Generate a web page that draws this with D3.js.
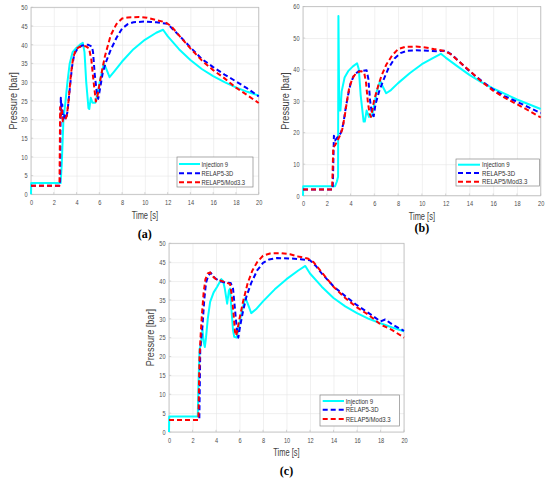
<!DOCTYPE html>
<html>
<head>
<meta charset="utf-8">
<script src="https://cdn.jsdelivr.net/npm/d3@7"></script>
<style>
  body { margin: 0; background: #fff; }
  svg { display: block; font-family: "Liberation Sans", Arial, sans-serif; }
</style>
</head>
<body>
<script>
// series names for the legend
var seriesNames = ["Injection 9", "RELAP5-3D", "RELAP5/Mod3.3"];
var xTicks = [0, 2, 4, 6, 8, 10, 12, 14, 16, 18, 20];

// panel (a) : [time s, pressure bar]
var injA = [[0,0],[0.02,3],[2.6,3],[2.7,8],[2.85,20],[3.0,24],[3.2,30],[3.4,35],[3.65,38],[4.0,39.2],[4.3,40],[4.55,40.5],[4.7,38],[4.85,30],[5.05,23],[5.12,22.8],[5.25,25.8],[5.4,24.5],[5.65,24.5],[5.85,27],[6.1,31],[6.4,35],[6.55,34],[6.9,31.3],[7.3,32.8],[8,35.5],[9,38.8],[10,41.3],[11,43.2],[11.6,44],[12,42.3],[13,38.8],[14,35.9],[15,33.5],[16,31.6],[17,30],[18,28.6],[19,27.4],[20,26.4]];
var r3dA = [[0,2.3],[2.55,2.3],[2.58,15],[2.62,25.8],[2.68,22],[2.75,24],[2.8,20],[2.9,21.5],[3.05,20],[3.2,22],[3.4,28],[3.6,34],[3.8,37.5],[4.1,39],[4.5,39.8],[5.0,40],[5.35,39.5],[5.45,38],[5.6,32],[5.75,28],[5.9,25.5],[6.05,28],[6.3,32.5],[6.6,35.5],[7.0,38.6],[7.5,41.8],[8,44.3],[8.5,45.5],[9,46],[10,46.2],[11,46],[11.5,45.8],[12,45.6],[12.5,44],[13,42.5],[14,39.3],[15,36.2],[16,34],[17,32],[18,30.2],[19,28.3],[20,26.2]];
var modA = [[0,2.3],[2.5,2.3],[2.53,12],[2.56,23.3],[2.62,21],[2.7,22.5],[2.8,19.5],[3.0,20],[3.15,21],[3.3,25],[3.5,32],[3.7,36.5],[3.95,38.8],[4.3,39.5],[4.8,39.6],[5.1,39],[5.3,36],[5.5,30],[5.7,24.8],[5.85,26.5],[6.05,30],[6.3,34],[6.5,37],[7.0,42.5],[7.5,45.5],[8.0,47],[8.5,47.3],[9.5,47.4],[10.2,47.2],[11,46.6],[11.8,46],[12.3,45],[13,42.5],[14,39],[15,35.8],[16,33.2],[17,31],[18,28.5],[19,26.5],[20,24.4]];

// panel (b)
var injB = [[0,0],[0.02,3],[2.7,3],[2.85,4.5],[2.95,6],[2.98,57],[3.02,40],[3.05,27],[3.1,30],[3.15,27],[3.25,33],[3.5,37.5],[3.8,39.5],[4.2,41],[4.55,42],[4.7,40],[4.85,32],[5.1,23.5],[5.2,23.5],[5.35,27],[5.55,25],[5.8,25.2],[6.0,29],[6.2,33],[6.5,36.5],[6.65,35],[7.0,32.5],[7.4,33.5],[8,35.7],[9,38.9],[10,41.7],[11,43.8],[11.6,45],[12,43.8],[13,41],[14,38.3],[15,36],[16,34],[17,32.3],[18,30.5],[19,29],[20,27.5]];
var r3dB = [[0,2],[2.5,2],[2.55,10],[2.6,19],[2.7,17.5],[2.8,18],[3.0,19],[3.2,20],[3.4,23],[3.6,28],[3.8,32],[4.0,35.5],[4.3,38.3],[4.7,39.5],[5.0,39.6],[5.35,39.8],[5.5,37],[5.65,30],[5.8,26],[5.95,25.2],[6.1,29],[6.4,33],[6.8,37],[7.2,40.5],[7.7,43.5],[8.2,45.2],[8.8,46],[9.5,46.1],[10.5,46],[11.3,45.8],[12,46],[12.6,44.5],[13,43],[14,39.5],[15,36.5],[16,33.7],[17,31.5],[18,29.8],[19,28],[20,26.2]];
var modB = [[0,2],[2.45,2],[2.5,9],[2.55,15.5],[2.7,16],[2.9,17.5],[3.1,19],[3.3,21],[3.5,25],[3.7,30],[3.9,34.5],[4.2,37.5],[4.5,39],[4.9,39.5],[5.15,39],[5.3,36],[5.45,30],[5.6,26],[5.72,25],[5.85,27.5],[6.0,30.5],[6.3,34.5],[6.6,38],[7.0,41.5],[7.5,44.5],[8.0,46.5],[8.6,47.2],[9.5,47.3],[10.3,47],[11,46.5],[11.8,46],[12.4,45],[13,43],[14,39.7],[15,36.3],[16,33.3],[17,31],[18,29],[19,27],[20,24.8]];

// panel (c)
var injC = [[0,0],[0.02,4.1],[2.45,4.1],[2.5,12],[2.6,22],[2.7,23],[2.85,27],[2.95,24],[3.05,22.5],[3.15,25],[3.3,30],[3.5,34.5],[3.8,37],[4.1,38.5],[4.45,40.5],[4.6,40],[4.75,38],[4.95,34],[5.1,37.5],[5.2,38],[5.3,33],[5.45,27],[5.55,25.2],[5.75,25],[5.95,28],[6.2,32],[6.5,35.6],[6.7,34],[7.0,31.5],[7.4,32.5],[8,34.6],[9,37.8],[10,40.5],[11,42.8],[11.6,44],[12,42],[13,38.5],[14,35.5],[15,33.3],[16,31.5],[17,30],[18,28.8],[19,27.7],[20,26.7]];
var r3dC = [[0,3.2],[2.58,3.2],[2.62,12],[2.66,22],[2.75,25],[2.85,28],[3.0,35],[3.15,39.5],[3.35,41.5],[3.55,42.2],[3.7,41.5],[3.9,40.8],[4.3,40],[4.8,39.6],[5.25,39.5],[5.45,38],[5.6,33],[5.75,28],[5.9,25],[6.05,28],[6.3,32],[6.6,36],[7.0,39.5],[7.5,42.8],[8.0,44.8],[8.5,45.7],[9.2,46.1],[10.2,46],[11.2,45.8],[12,45.5],[12.5,44],[13,42],[14,38.6],[15,36],[16,33.6],[17,31.5],[18,29.3],[18.4,29.8],[19,28.5],[20,26.8]];
var modC = [[0,3.2],[2.5,3.2],[2.55,12],[2.6,20],[2.7,26],[2.8,31],[2.95,37],[3.1,40.5],[3.3,42],[3.5,42.3],[3.7,41.3],[4.0,40.5],[4.4,40.1],[4.8,39.7],[5.2,39.2],[5.35,36],[5.5,31],[5.62,26.5],[5.72,25.5],[5.85,27.5],[6.0,30],[6.3,34.5],[6.7,39.5],[7.1,42.8],[7.5,45],[8.0,46.7],[8.6,47.3],[9.5,47.4],[10.3,47.1],[11.0,46.5],[11.8,46],[12.3,45],[13,42.3],[14,38.5],[15,35.5],[16,33],[17,31],[18,28.5],[19,27],[20,25]];

var yTicksAC = [0, 5, 10, 15, 20, 25, 30, 35, 40, 45, 50];
var yTicksB = [0, 10, 20, 30, 40, 50, 60];

// layout of the three panels
var panels = [
  {tag: "(a)", data: [injA, r3dA, modA], yMax: 50, yTicks: yTicksAC,
   left: 31, right: 258.7, top: 7.3, bottom: 194.3,
   yLabX: 12.7, xLabY: 215, capY: 233.5,
   leg: {x0: 177, x1: 253, y0: 157, y1: 187, rows: [164, 173.3, 182.3], s0: 179, s1: 200, tx: 201.5, k: 0.73}},
  {tag: "(b)", data: [injB, r3dB, modB], yMax: 60, yTicks: yTicksB,
   left: 303, right: 540.7, top: 6.5, bottom: 195.7,
   yLabX: 285, xLabY: 216, capY: 228,
   leg: {x0: 456, x1: 539.5, y0: 159, y1: 186, rows: [164.7, 173, 181.7], s0: 458, s1: 480, tx: 482, k: 0.76}},
  {tag: "(c)", data: [injC, r3dC, modC], yMax: 50, yTicks: yTicksAC,
   left: 169, right: 404, top: 243.3, bottom: 432,
   yLabX: 150, xLabY: 451.7, capY: 470.7,
   leg: {x0: 320, x1: 399.5, y0: 395, y1: 426, rows: [401, 409.7, 419], s0: 322.7, s1: 344, tx: 345.7, k: 0.755}}
];

var styles = [
  {color: "#00ffff", dash: null},
  {color: "#0000ff", dash: "5,3"},
  {color: "#ff0000", dash: "5,3"}
];

var svg = d3.select("body").append("svg")
  .attr("width", 550)
  .attr("height", 482);

// narrow text horizontally, the source picture is squeezed
function squeeze(sel, k){
  sel.each(function(){
    var w = this.getComputedTextLength();
    d3.select(this).attr("textLength", w * k).attr("lengthAdjust", "spacingAndGlyphs");
  });
}

panels.forEach(function(p){
  var x = d3.scaleLinear().domain([0, 20]).range([p.left, p.right]);
  var y = d3.scaleLinear().domain([0, p.yMax]).range([p.bottom, p.top]);
  var w = p.right - p.left, h = p.bottom - p.top;

  var g = svg.append("g");

  // grid + ticks
  var xa = g.append("g")
    .attr("transform", "translate(0," + p.bottom + ")")
    .call(d3.axisBottom(x).tickValues(xTicks).tickSize(-h).tickPadding(5.5).tickFormat(d3.format("d")));
  var ya = g.append("g")
    .attr("transform", "translate(" + p.left + ",0)")
    .call(d3.axisLeft(y).tickValues(p.yTicks).tickSize(-w).tickPadding(3.5).tickFormat(d3.format("d")));

  [xa, ya].forEach(function(a){
    a.select(".domain").remove();
    a.selectAll("line").attr("stroke", "#e6e6e6").attr("stroke-width", 0.6);
    a.selectAll("text").attr("fill", "#4d4d4d").style("font-size", "7.2px");
    squeeze(a.selectAll("text"), 0.78);
  });

  // frame
  g.append("rect")
    .attr("x", p.left).attr("y", p.top)
    .attr("width", w).attr("height", h)
    .attr("fill", "none")
    .attr("stroke", "#bdbdbd")
    .attr("stroke-width", 0.8);

  // small inward tick marks
  xTicks.forEach(function(t){
    g.append("line").attr("x1", x(t)).attr("x2", x(t))
      .attr("y1", p.bottom).attr("y2", p.bottom - 2.2)
      .attr("stroke", "#bdbdbd").attr("stroke-width", 0.6);
  });
  p.yTicks.forEach(function(t){
    g.append("line").attr("x1", p.left).attr("x2", p.left + 2.2)
      .attr("y1", y(t)).attr("y2", y(t))
      .attr("stroke", "#bdbdbd").attr("stroke-width", 0.6);
  });

  // series
  var line = d3.line()
    .x(function(d){ return x(d[0]); })
    .y(function(d){ return y(d[1]); });

  p.data.forEach(function(series, i){
    g.append("path")
      .datum(series)
      .attr("d", line)
      .attr("fill", "none")
      .attr("stroke", styles[i].color)
      .attr("stroke-width", 2)
      .attr("stroke-linejoin", "round")
      .attr("stroke-dasharray", styles[i].dash);
  });

  // legend
  var L = p.leg;
  g.append("rect")
    .attr("x", L.x0).attr("y", L.y0)
    .attr("width", L.x1 - L.x0).attr("height", L.y1 - L.y0)
    .attr("fill", "#fff")
    .attr("stroke", "#888")
    .attr("stroke-width", 0.7);
  seriesNames.forEach(function(name, i){
    g.append("line")
      .attr("x1", L.s0).attr("x2", L.s1)
      .attr("y1", L.rows[i]).attr("y2", L.rows[i])
      .attr("stroke", styles[i].color)
      .attr("stroke-width", 2)
      .attr("stroke-dasharray", styles[i].dash);
    var t = g.append("text")
      .attr("x", L.tx).attr("y", L.rows[i])
      .attr("dominant-baseline", "central")
      .attr("fill", "#333")
      .style("font-size", "8px")
      .text(name);
    squeeze(t, L.k);
  });

  // axis labels
  var yl = g.append("text")
    .attr("transform", "translate(" + p.yLabX + "," + (p.top + h / 2) + ") rotate(-90)")
    .attr("text-anchor", "middle")
    .attr("dominant-baseline", "central")
    .attr("fill", "#404040")
    .style("font-size", "11px")
    .text("Pressure [bar]");
  squeeze(yl, 0.83);

  var xl = g.append("text")
    .attr("x", p.left + w / 2).attr("y", p.xLabY)
    .attr("text-anchor", "middle")
    .attr("dominant-baseline", "central")
    .attr("fill", "#404040")
    .style("font-size", "11px")
    .text("Time [s]");
  squeeze(xl, 0.68);

  // caption
  g.append("text")
    .attr("x", p.left + w / 2).attr("y", p.capY)
    .attr("text-anchor", "middle")
    .attr("dominant-baseline", "central")
    .attr("fill", "#000")
    .style("font-family", "'Liberation Serif', 'Times New Roman', serif")
    .style("font-weight", "bold")
    .style("font-size", "12px")
    .text(p.tag);
});
</script>
</body>
</html>
